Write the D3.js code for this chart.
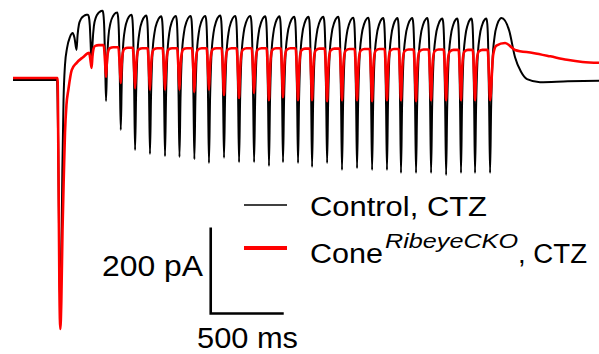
<!DOCTYPE html>
<html>
<head>
<meta charset="utf-8">
<script src="https://cdn.jsdelivr.net/npm/d3@7"></script>
<style>
  html, body { margin: 0; padding: 0; background: #fff; }
  svg { display: block; }
  text { font-family: Arial, "Liberation Sans", sans-serif; fill: #000; }
</style>
</head>
<body>
<div id="vis"></div>
<script>
// trough times of the train (ms) and values (pA, relative to control holding current)
const troughT = [435, 538, 637, 738, 836, 938, 1041, 1140, 1242, 1342, 1445, 1548, 1651, 1753, 1849,
  1952, 2048, 2151, 2253, 2356, 2459, 2561, 2657, 2760, 2863, 2966, 3068, 3164, 3267];

// control, CTZ (black)
const blackOnsetT = [0, 301, 310, 318, 324, 331, 338, 346, 356, 370, 390, 409, 421];
const blackOnsetV = [0, 0, -163, -442, -523, -419, -209, -47, 35, 74, 100, 109, 98];
const blackTroughV = [70, 33, -49, -116, -163, -172, -177, -179, -184, -193, -181, -191, -191, -200, -191,
  -193, -202, -193, -209, -205, -209, -209, -216, -216, -216, -221, -216, -216, -216];
const blackPeakV = [152, 161, 157, 152, 150, 148, 149, 149, 149, 150, 149, 149, 148, 148, 147,
  147, 147, 147, 145, 145, 144, 144, 144, 144, 143, 143, 143, 143, 144];
const blackTailT = [3397, 3438, 3479, 3520, 3609, 3800, 4013];
const blackTailV = [116, 53, 19, 2, -5, -3, -2];
// shape of one black cycle (fraction of period, fraction of swing)
const blackRiseF = [0, 0.07, 0.16, 0.3, 0.48, 0.66, 0.76];
const blackRiseV = [0, 0.42, 0.72, 0.88, 0.96, 0.995, 1];
const blackFallF = [0.82, 0.88, 0.94];
const blackFallV = [0.04, 0.2, 0.58];

// ConeRibeyeCKO, CTZ (red), troughs 2..29
const redOnsetT = [0, 305, 312, 318, 324, 331, 339, 349, 356, 366, 379, 402, 436, 479];
const redOnsetV = [4.7, 4.7, -233, -488, -579, -512, -349, -209, -123, -58, -23, 23, 40, 53];
const redTroughV = [28, 7, -7, -19, -23, -23, -23, -28, -23, -35, -42, -30, -47, -40, -47,
  -47, -49, -47, -47, -49, -47, -47, -49, -47, -47, -47, -47, -47];
const redLevel = [63, 81, 76, 75, 74, 74, 74, 74, 74, 74, 74, 74, 74, 74, 74,
  73, 73, 73, 72, 72, 72, 72, 71, 71, 71, 70, 70, 70];
const redTailT = [3288, 3310, 3370, 3438, 3561, 3680, 3794, 3900, 4013];
const redTailV = [58, 80, 86, 70, 63, 55, 47, 42, 40];
const redRiseF = [0.06, 0.14, 0.25, 0.5];
const redRiseV = [0.5, 0.85, 0.97, 1];
const redFallF = [0.84, 0.93];
const redFallV = [0, 0.5];

const width = 599, height = 354;

const x = d3.scaleLinear().domain([0, 4013]).range([13, 599]);
const y = d3.scaleLinear().domain([-637, 186]).range([354, 0]);

const svg = d3.select("#vis").append("svg")
  .attr("width", width)
  .attr("height", height);

function blackPoints() {
  const pts = blackOnsetT.map((t, i) => [t, blackOnsetV[i]]);
  troughT.forEach((t0, k) => {
    const last = k === troughT.length - 1;
    const T = last ? t0 - troughT[k - 1] : troughT[k + 1] - t0;
    const v0 = blackTroughV[k], p = blackPeakV[k];
    blackRiseF.forEach((f, i) => pts.push([t0 + f * T, v0 + blackRiseV[i] * (p - v0)]));
    if (!last) {
      const v1 = blackTroughV[k + 1];
      blackFallF.forEach((f, i) => pts.push([t0 + f * T, p + blackFallV[i] * (v1 - p)]));
    }
  });
  blackTailT.forEach((t, i) => pts.push([t, blackTailV[i]]));
  return pts;
}

function redPoints() {
  const pts = redOnsetT.map((t, i) => [t, redOnsetV[i]]);
  redTroughV.forEach((rv, j) => {
    const t0 = troughT[j + 1];
    const Tp = t0 - troughT[j];
    const L = redLevel[j];
    redFallF.forEach((f, i) => pts.push([t0 - (1 - f) * Tp, L + redFallV[i] * (rv - L)]));
    pts.push([t0, rv]);
    if (j < redTroughV.length - 1) {
      const T = troughT[j + 2] - t0;
      const L2 = redLevel[j + 1];
      redRiseF.forEach((f, i) => pts.push([t0 + f * T, rv + redRiseV[i] * (L2 - rv)]));
    }
  });
  redTailT.forEach((t, i) => pts.push([t, redTailV[i]]));
  return pts;
}

const line = d3.line()
  .x(d => x(d[0]))
  .y(d => y(d[1]))
  .curve(d3.curveMonotoneX);

svg.append("path")
  .attr("d", line(blackPoints()))
  .attr("fill", "none")
  .attr("stroke", "#000")
  .attr("stroke-width", 2)
  .attr("stroke-linejoin", "round");

svg.append("path")
  .attr("d", line(redPoints()))
  .attr("fill", "none")
  .attr("stroke", "#ff0000")
  .attr("stroke-width", 2.6)
  .attr("stroke-linejoin", "round");

// scale bars: 200 pA, 500 ms
const barT = 1354, barV = -543;
svg.append("path")
  .attr("d", `M${x(barT)},${y(barV + 200)}V${y(barV)}H${x(barT + 500)}`)
  .attr("fill", "none")
  .attr("stroke", "#000")
  .attr("stroke-width", 2.6);

svg.append("text")
  .attr("x", 102).attr("y", 276)
  .attr("font-size", 29)
  .attr("textLength", 101).attr("lengthAdjust", "spacingAndGlyphs")
  .text("200 pA");

svg.append("text")
  .attr("x", 197).attr("y", 348)
  .attr("font-size", 29)
  .attr("textLength", 101).attr("lengthAdjust", "spacingAndGlyphs")
  .text("500 ms");

// legend
svg.append("line")
  .attr("x1", 244).attr("x2", 287).attr("y1", 205).attr("y2", 205)
  .attr("stroke", "#000").attr("stroke-width", 1.6);
svg.append("line")
  .attr("x1", 244).attr("x2", 287).attr("y1", 248).attr("y2", 248)
  .attr("stroke", "#ff0000").attr("stroke-width", 3.8);

svg.append("text")
  .attr("x", 310).attr("y", 216)
  .attr("font-size", 27)
  .attr("textLength", 177).attr("lengthAdjust", "spacingAndGlyphs")
  .text("Control, CTZ");

svg.append("text")
  .attr("x", 310).attr("y", 263)
  .attr("font-size", 27)
  .attr("textLength", 73).attr("lengthAdjust", "spacingAndGlyphs")
  .text("Cone");
svg.append("text")
  .attr("x", 385).attr("y", 248)
  .attr("font-size", 21)
  .attr("font-style", "italic")
  .attr("textLength", 133).attr("lengthAdjust", "spacingAndGlyphs")
  .text("RibeyeCKO");
svg.append("text")
  .attr("x", 518).attr("y", 263)
  .attr("font-size", 27)
  .attr("textLength", 69).attr("lengthAdjust", "spacingAndGlyphs")
  .text(", CTZ");
</script>
</body>
</html>
